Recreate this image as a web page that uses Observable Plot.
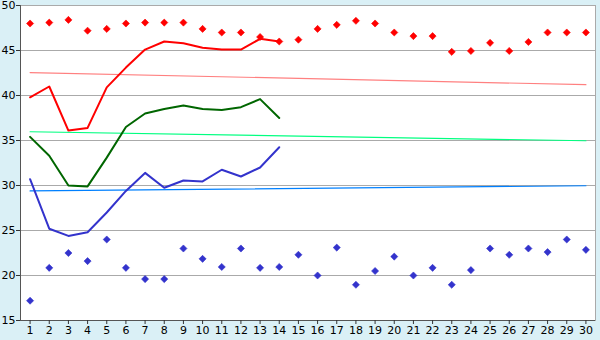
<!DOCTYPE html>
<html><head><meta charset="utf-8">
<script src="https://cdn.jsdelivr.net/npm/d3@7"></script>
<script src="https://cdn.jsdelivr.net/npm/@observablehq/plot@0.6"></script>
<style>
html,body{margin:0;padding:0;background:#daf0f6;}
#c{width:600px;height:340px;}
</style></head><body><div id="c"></div>
<script>
const days = d3.range(1, 31);
const maxDots = [48.0,48.1,48.4,47.2,47.4,48.0,48.1,48.1,48.1,47.4,47.0,47.0,46.5,46.0,46.2,47.4,47.85,48.3,48.0,47.0,46.6,46.6,44.85,44.95,45.85,44.95,45.95,47.0,47.0,47.0];
const minDots = [17.2,20.85,22.5,21.6,24.0,20.85,19.6,19.6,23.0,21.85,20.95,23.0,20.85,20.95,22.3,20.0,23.1,18.97,20.5,22.1,20.0,20.85,18.97,20.6,23.0,22.3,23.0,22.6,24.0,22.85];
const redLine = [39.8,41.0,36.1,36.4,40.9,43.1,45.1,46.0,45.8,45.3,45.1,45.1,46.3,46.0];
const greenLine = [35.4,33.3,30.0,29.9,33.1,36.5,38.0,38.5,38.9,38.5,38.4,38.7,39.6,37.5];
const blueLine = [30.7,25.2,24.4,24.8,27.0,29.4,31.4,29.75,30.55,30.45,31.75,31.0,32.0,34.25];
const trendDays = [1, 30];
const redTrend = [42.55, 41.2];
const greenTrend = [35.97, 34.97];
const blueTrend = [29.4, 29.97];
const yTicks = [15,20,25,30,35,40,45,50];

const pts = (xs, ys) => ys.map((v,i)=>({x:xs[i], y:v}));

const chart = Plot.plot({
  width: 600, height: 340,
  marginLeft: 20, marginRight: 5, marginTop: 5, marginBottom: 20,
  style: {background: "transparent", fontFamily: "DejaVu Sans, Verdana, sans-serif", fontSize: "11px", color: "#000"},
  x: {domain: [0.5, 30.5], label: null},
  y: {domain: [15, 50], label: null},
  marks: [
    Plot.frame({fill: "white", stroke: "#aaaaaa"}),
    Plot.gridY(yTicks, {stroke: "#aaaaaa", strokeOpacity: 1}),
    Plot.ruleX([0.5], {stroke: "#555"}),
    Plot.ruleY([15], {stroke: "#555"}),
    Plot.axisX({ticks: days, tickFormat: d => d, tickSize: 4, tickPadding: 2, stroke: "#333", fontSize: 11}),
    Plot.axisY({ticks: yTicks, tickSize: 4, tickPadding: 1, stroke: "#333", fontSize: 11}),
    Plot.line(pts(trendDays, redTrend), {x:"x", y:"y", stroke:"#ff8080", strokeWidth:1.2}),
    Plot.line(pts(trendDays, greenTrend), {x:"x", y:"y", stroke:"#00ff80", strokeWidth:1.2}),
    Plot.line(pts(trendDays, blueTrend), {x:"x", y:"y", stroke:"#0080ff", strokeWidth:1.2}),
    Plot.line(pts(days, redLine), {x:"x", y:"y", stroke:"#ff0000", strokeWidth:2}),
    Plot.line(pts(days, greenLine), {x:"x", y:"y", stroke:"#006600", strokeWidth:2}),
    Plot.line(pts(days, blueLine), {x:"x", y:"y", stroke:"#3333cc", strokeWidth:2}),
    Plot.dot(pts(days, maxDots), {x:"x", y:"y", symbol:"diamond2", r:3.2, fill:"#ff0000", stroke:"#ff0000", strokeWidth:0.6}),
    Plot.dot(pts(days, minDots), {x:"x", y:"y", symbol:"diamond2", r:3.2, fill:"#3333cc", stroke:"#3333cc", strokeWidth:0.6})
  ]
});
document.getElementById("c").appendChild(chart);
</script></body></html>
